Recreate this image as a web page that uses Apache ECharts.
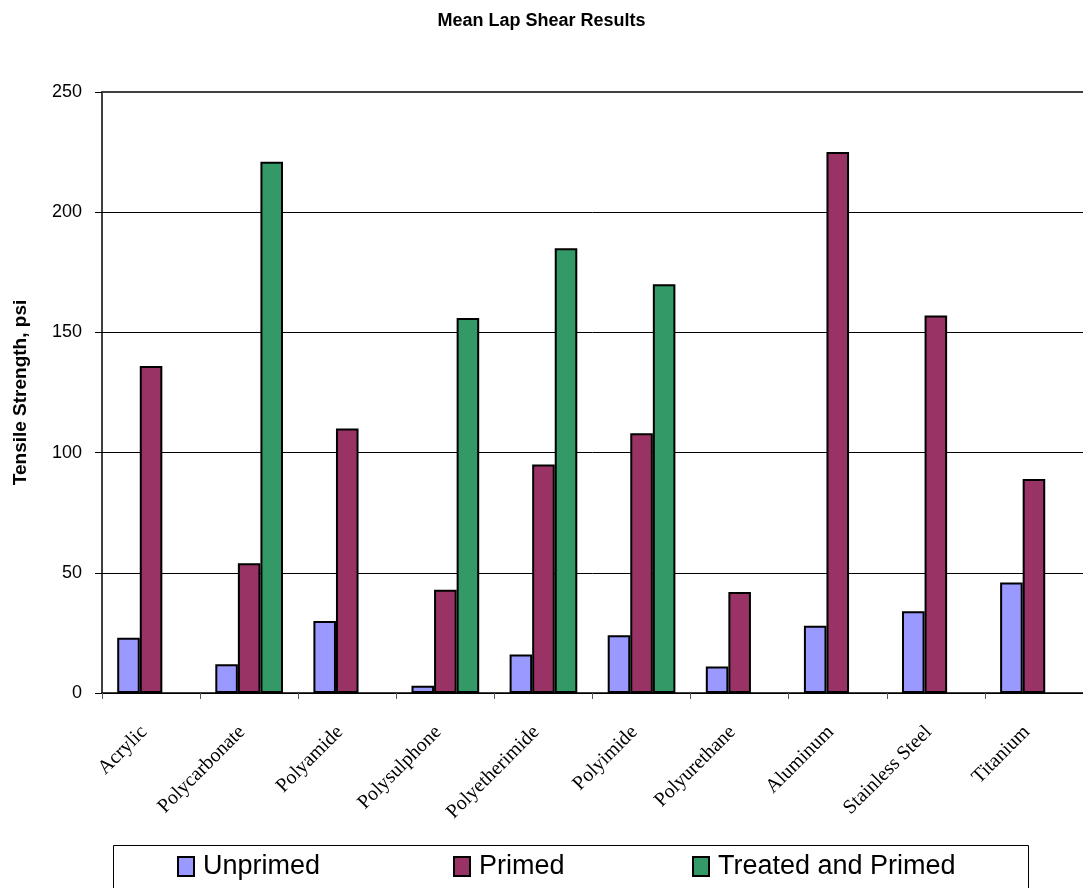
<!DOCTYPE html>
<html>
<head>
<meta charset="utf-8">
<script src="https://cdn.jsdelivr.net/npm/echarts@6/dist/echarts.min.js"></script>
<style>
html,body{margin:0;padding:0;background:#fff;}
#chart{width:1083px;height:888px;}
</style>
</head>
<body>
<div id="chart"></div>
<script>
var categories = ['Acrylic','Polycarbonate','Polyamide','Polysulphone','Polyetherimide','Polyimide','Polyurethane','Aluminum','Stainless Steel','Titanium'];
var unprimed = [23, 12, 30, 3, 16, 24, 11, 28, 34, 46];
var primed = [136, 54, 110, 43, 95, 108, 42, 225, 157, 89];
var treatedPrimed = [null, 221, null, 156, 185, 170, null, null, null, null];
var yTicks = {min: 0, max: 250, interval: 50};

var chart = echarts.init(document.getElementById('chart'), null, {renderer: 'canvas'});
var sansFont = 'Liberation Sans, Arial, sans-serif';
var serifFont = 'Liberation Serif, Times New Roman, serif';

function legendItem(name, left) {
  return {
    data: [name],
    left: left,
    top: 853,
    padding: 0,
    itemWidth: 16,
    itemHeight: 19,
    icon: 'rect',
    selectedMode: false,
    itemStyle: {borderColor: '#000', borderWidth: 2},
    textStyle: {fontFamily: sansFont, fontSize: 27, color: '#000', padding: [0, 0, 0, 4]}
  };
}

var barStyle = function (color) {
  return {color: color, borderColor: '#000', borderWidth: 2};
};

chart.setOption({
  animation: false,
  backgroundColor: '#fff',
  title: {
    text: 'Mean Lap Shear Results',
    left: 'center',
    top: 7,
    textStyle: {fontFamily: sansFont, fontSize: 18, fontWeight: 'bold', color: '#000'}
  },
  legend: [
    legendItem('Unprimed', 177),
    legendItem('Primed', 453),
    legendItem('Treated and Primed', 692)
  ],
  graphic: [{
    type: 'rect',
    shape: {x: 113.5, y: 845.5, width: 915, height: 60},
    style: {fill: 'none', stroke: '#000', lineWidth: 1},
    silent: true
  }],
  grid: {left: 102, top: 92, right: 0, bottom: 195, containLabel: false},
  xAxis: [{
    type: 'category',
    data: categories,
    position: 'bottom',
    axisLine: {lineStyle: {color: '#000', width: 1.5}},
    axisTick: {show: true, alignWithLabel: false, length: 6, lineStyle: {color: '#555'}},
    axisLabel: {
      interval: 0,
      rotate: 45,
      margin: 29,
      padding: [0, 10, 0, 0],
      fontFamily: serifFont,
      fontSize: 20,
      color: '#000'
    }
  }, {
    type: 'category',
    data: categories,
    position: 'top',
    axisLine: {show: true, lineStyle: {color: '#404040', width: 2}},
    axisTick: {show: false},
    axisLabel: {show: false},
    splitLine: {show: false}
  }],
  yAxis: {
    type: 'value',
    min: yTicks.min,
    max: yTicks.max,
    interval: yTicks.interval,
    name: 'Tensile Strength, psi',
    nameLocation: 'middle',
    nameGap: 72,
    nameTextStyle: {fontFamily: sansFont, fontSize: 19, fontWeight: 'bold', color: '#000'},
    axisLine: {show: true, lineStyle: {color: '#000', width: 1.5}},
    axisTick: {show: true, inside: false, length: 7, lineStyle: {color: '#000'}},
    axisLabel: {margin: 20, fontFamily: sansFont, fontSize: 18, color: '#000'},
    splitLine: {show: true, lineStyle: {color: '#000', width: 1}}
  },
  series: [{
    name: 'Unprimed',
    type: 'bar',
    data: unprimed,
    barGap: '0%',
    barCategoryGap: '31%',
    itemStyle: barStyle('#9999FF')
  }, {
    name: 'Primed',
    type: 'bar',
    data: primed,
    barGap: '0%',
    barCategoryGap: '31%',
    itemStyle: barStyle('#993366')
  }, {
    name: 'Treated and Primed',
    type: 'bar',
    data: treatedPrimed,
    barGap: '0%',
    barCategoryGap: '31%',
    itemStyle: barStyle('#339966')
  }]
});
</script>
</body>
</html>
